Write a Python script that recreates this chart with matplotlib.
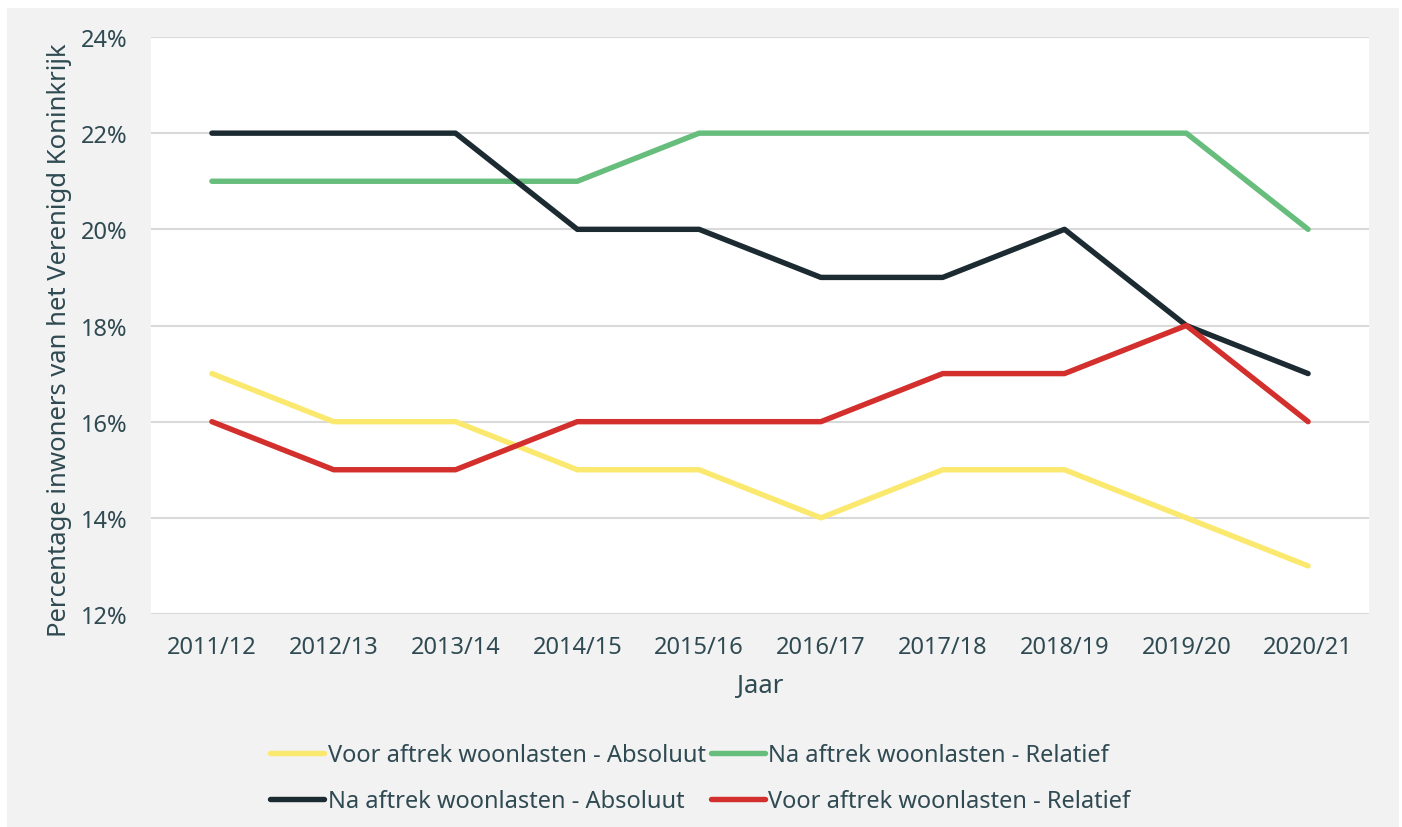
import matplotlib
matplotlib.use("Agg")
import matplotlib.pyplot as plt
from matplotlib.patches import Rectangle
from matplotlib.ticker import FuncFormatter, MultipleLocator

years = ["2011/12", "2012/13", "2013/14", "2014/15", "2015/16",
         "2016/17", "2017/18", "2018/19", "2019/20", "2020/21"]
voor_absoluut = [17, 16, 16, 15, 15, 14, 15, 15, 14, 13]
na_relatief = [21, 21, 21, 21, 22, 22, 22, 22, 22, 20]
na_absoluut = [22, 22, 22, 20, 20, 19, 19, 20, 18, 17]
voor_relatief = [16, 15, 15, 16, 16, 16, 17, 17, 18, 16]

series = [
    ("Voor aftrek woonlasten - Absoluut", voor_absoluut, "#fbe86e"),
    ("Na aftrek woonlasten - Relatief", na_relatief, "#66bd7c"),
    ("Na aftrek woonlasten - Absoluut", na_absoluut, "#1c2b31"),
    ("Voor aftrek woonlasten - Relatief", voor_relatief, "#d22f2d"),
]

text_color = "#2f4a52"
fs = 17
title_fs = 18.5
plt.rcParams["font.family"] = ["Noto Sans", "DejaVu Sans"]

W, H = 1402, 828
fig = plt.figure(figsize=(W / 100, H / 100), dpi=100)
fig.patch.set_facecolor("white")
fig.add_artist(Rectangle((7 / W, 0), 1392 / W, (H - 9) / H,
                         transform=fig.transFigure, facecolor="#f2f2f2",
                         edgecolor="none", zorder=-10))

ax = fig.add_axes([151 / W, 1 - 615 / H, 1218 / W, 577 / H])
ax.set_zorder(2)
ax.set_facecolor("white")

x = list(range(len(years)))
handles = []
for label, values, color in series:
    (ln,) = ax.plot(x, values, color=color, lw=3.9, label=label,
                    solid_capstyle="round", solid_joinstyle="round", zorder=3)
    handles.append(ln)

ax.set_xlim(-0.5, len(years) - 0.5)
ax.set_ylim(12, 24)
ax.yaxis.set_major_locator(MultipleLocator(2))
ax.yaxis.set_major_formatter(FuncFormatter(lambda v, p: f"{v:.0f}%"))
ax.set_xticks(x)
ax.set_xticklabels(years)
ax.grid(axis="y", color="#d9d9d9", lw=1.5, zorder=1)
for s in ax.spines.values():
    s.set_visible(False)
ax.tick_params(axis="both", length=0, labelsize=fs, colors=text_color)
ax.tick_params(axis="y", pad=17)
ax.tick_params(axis="x", pad=15)

ax.set_xlabel("Jaar", fontsize=title_fs, color=text_color, labelpad=10)
ax.set_ylabel("Percentage inwoners van het Verenigd Koninkrijk",
              fontsize=title_fs, color=text_color)
ax.yaxis.set_label_coords(-0.0649, 0.477)

# legend is filled column by column: reorder so rows read yellow/green, black/red
order = [0, 2, 1, 3]
leg = fig.legend([handles[i] for i in order], [series[i][0] for i in order],
                 loc="upper left", bbox_to_anchor=(270 / W, 1 - 744 / H),
                 ncol=2, frameon=False, fontsize=fs, labelcolor=text_color,
                 handlelength=2.3, handletextpad=0.15, columnspacing=0.2,
                 labelspacing=0.95, borderpad=0, borderaxespad=0)
for line in leg.get_lines():
    line.set_linewidth(3.9)
    line.set_solid_capstyle("round")

fig.savefig("out.png", dpi=100)
